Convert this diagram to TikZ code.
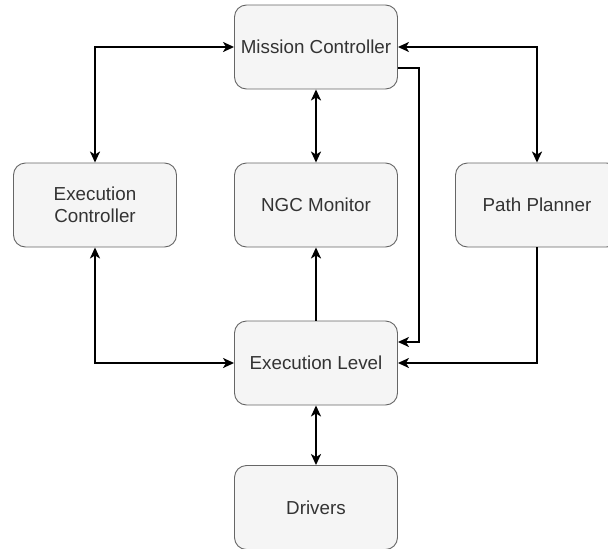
\documentclass[tikz,border=0pt]{standalone}
\usepackage{fontspec}
\setmainfont{Liberation Sans}
\usetikzlibrary{arrows.meta}
\definecolor{boxfill}{HTML}{F5F5F5}
\definecolor{boxline}{HTML}{666666}
\definecolor{boxtext}{HTML}{333333}
\begin{document}
\begin{tikzpicture}[x=1pt,y=-1pt,
  block/.style={draw=boxline,fill=boxfill,line width=0.9pt,rounded corners=12pt,
    minimum width=163pt,minimum height=84pt,align=center,text=boxtext,
    font=\fontsize{18.8}{22.5}\selectfont},
  link/.style={line width=2pt,>={Stealth[length=11pt,width=10pt,inset=3pt]}}]
\useasboundingbox (0,0) rectangle (608,549);
% the six blocks
\node[block] (mc) at (316,47) {Mission Controller};
\node[block] (ec) at (95,205) {Execution\\Controller};
\node[block] (ngc) at (316,205) {NGC Monitor};
\node[block] (pp) at (537,205) {Path Planner};
\node[block] (el) at (316,363) {Execution Level};
\node[block] (drv) at (316,507.5) {Drivers};
% links
\draw[link,<->] (ec.north) |- (mc.west);
\draw[link,<->] (pp.north) |- (mc.east);
\draw[link,<->] (mc.south) -- (ngc.north);
\draw[link,->] (el.north) -- (ngc.south);
\draw[link,->] ([yshift=-21pt]mc.east) -- ++(21,0) |- ([yshift=21pt]el.east);
\draw[link,->] (pp.south) |- (el.east);
\draw[link,<->] (ec.south) |- (el.west);
\draw[link,<->] (el.south) -- (drv.north);
\end{tikzpicture}
\end{document}
